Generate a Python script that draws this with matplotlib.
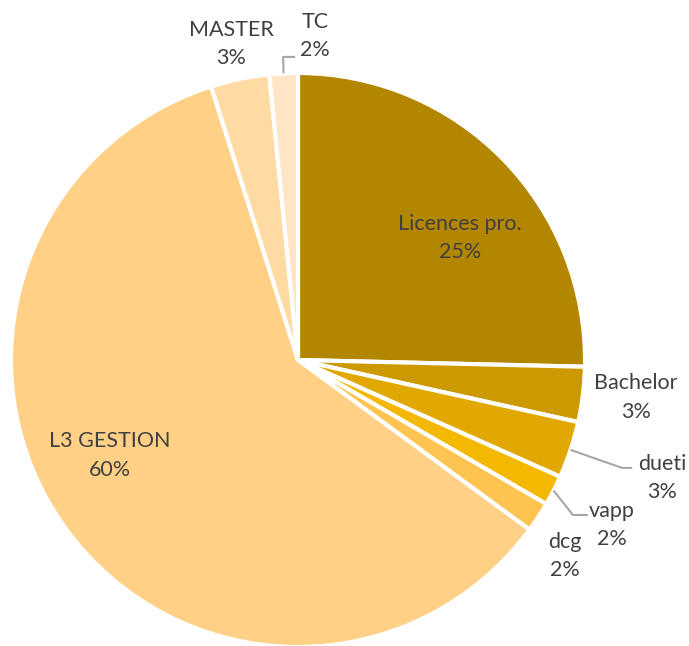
"""Pie chart of programme shares (Excel-style)."""

import numpy as np
import matplotlib
matplotlib.use("Agg")
import matplotlib.pyplot as plt

# data, clockwise from 12 o'clock
categories = ["Licences pro.", "Bachelor", "dueti", "vapp", "dcg",
              "L3 GESTION", "MASTER", "TC"]
shares = [25.4, 3.1, 3.2, 1.7, 1.7, 60.1, 3.3, 1.6]
colors = ["#B38600", "#CC9900", "#E0A800", "#F5B800", "#FFC44F",
          "#FFD085", "#FFDAA3", "#FFE4C6"]

# label centres (data units, pie radius = 1) and leader line elbows
label_pos = {
    "Licences pro.": (0.564, 0.425),
    "Bachelor": (1.178, -0.132),
    "dueti": (1.268, -0.411),
    "vapp": (1.094, -0.575),
    "dcg": (0.930, -0.683),
    "L3 GESTION": (-0.655, -0.334),
    "MASTER": (-0.233, 1.101),
    "TC": (0.059, 1.129),
}
leaders = {
    "dueti": [(1.129, -0.376), (1.164, -0.376)],
    "vapp": [(0.958, -0.540), (1.010, -0.540)],
    "TC": [(-0.052, 1.056), (-0.010, 1.056)],
}

TEXT_COLOR = "#404040"
plt.rcParams["font.family"] = ["Lato", "DejaVu Sans"]

fig = plt.figure(figsize=(6.89, 6.46), dpi=100)
ax = fig.add_axes([0, 0, 1, 1])

wedges, _ = ax.pie(shares, colors=colors, startangle=90, counterclock=False,
                   radius=1.0, center=(0, 0),
                   wedgeprops=dict(edgecolor="white", linewidth=3))

total = sum(shares)
for w, name, val in zip(wedges, categories, shares):
    pct = 100 * val / total
    x, y = label_pos[name]
    ax.text(x, y, f"{name}\n{pct:.0f}%", ha="center", va="center",
            fontsize=15.5, color=TEXT_COLOR, linespacing=1.55)
    if name in leaders:
        mid = np.deg2rad((w.theta1 + w.theta2) / 2)
        pts = [(np.cos(mid), np.sin(mid))] + leaders[name]
        xs, ys = zip(*pts)
        ax.plot(xs, ys, color="#A6A6A6", lw=1.5, solid_capstyle="butt")

ax.set_xlim(-298 / 287, (689 - 298) / 287)
ax.set_ylim((360 - 646) / 287, 360 / 287)
ax.set_aspect("equal")
ax.axis("off")

fig.savefig("out.png", dpi=100, facecolor="white")
